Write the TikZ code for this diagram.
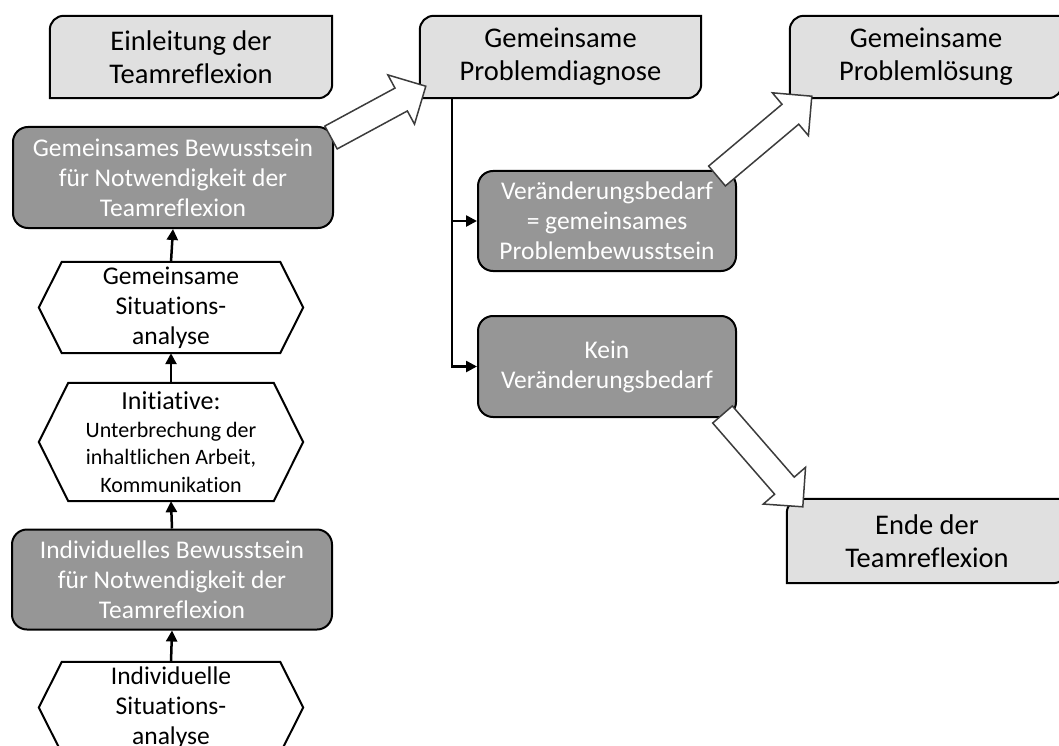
\documentclass[tikz,border=0pt]{standalone}
\usepackage{fontspec}
\setmainfont{Carlito}[Ligatures=NoCommon]
\usetikzlibrary{calc,arrows.meta}
\definecolor{palefill}{RGB}{224,224,224}
\definecolor{darkfill}{RGB}{150,150,150}
\definecolor{blockedge}{RGB}{60,60,60}
\pgfdeclarelayer{background}
\pgfsetlayers{background,main}
\newcommand\detailfont{\fontsize{22}{27.5}\selectfont}
\begin{document}
\begin{tikzpicture}[x=1pt,y=-1pt,
  phase/.style={inner sep=0pt, align=center, font=\fontsize{28.5}{33}\selectfont},
  state/.style={draw=black, line width=2pt, fill=darkfill, rounded corners=15pt,
                text=white, inner sep=0pt, align=center, font=\fontsize{25.5}{30}\selectfont},
  act/.style={inner sep=0pt, align=center, font=\fontsize{25.5}{30}\selectfont},
  paleline/.style={draw=black, line width=2pt, fill=palefill},
  hexline/.style={draw=black, line width=2pt, fill=white, line join=miter},
  flow/.style={line width=2.5pt, -{Triangle[length=11pt,width=11pt]}},
  block/.style={draw=blockedge, line width=1.5pt, fill=white, line join=miter},
  blockarrow/.style={to path={
    let \p1=(\tikztostart), \p2=(\tikztotarget),
        \n1={atan2(\y2-\y1,\x2-\x1)} in
      ($(\p1)+(\n1+90:13pt)$) --
      ($(\p2)+(\n1+180:28pt)+(\n1+90:13pt)$) --
      ($(\p2)+(\n1+180:28pt)+(\n1+90:28pt)$) --
      (\p2) --
      ($(\p2)+(\n1+180:28pt)+(\n1-90:28pt)$) --
      ($(\p2)+(\n1+180:28pt)+(\n1-90:13pt)$) --
      ($(\p1)+(\n1-90:13pt)$) -- cycle}}
]
\useasboundingbox (0,0) rectangle (1059,746);

% phases (pale boxes, outlines drawn on the background layer)
\node[phase, minimum width=282pt, minimum height=82pt] (ein) at (191,57) {Einleitung der\\Teamreflexion};
\node[phase, minimum width=281pt, minimum height=82pt] (gpd) at (560.5,57) {Gemeinsame\\Problemdiagnose};
\node[phase, minimum width=272pt, minimum height=82pt] (gpl) at (926,57) {Gemeinsame\\Problemlösung};
\node[phase, minimum width=280pt, minimum height=84pt] (ende) at (927,541) {Ende der\\Teamreflexion};

% states (dark rounded boxes)
\node[state, minimum width=320pt, minimum height=101pt] (gb) at (173,177.5) {Gemeinsames Bewusstsein\\für Notwendigkeit der\\Teamreflexion};
\node[state, minimum width=320pt, minimum height=100pt] (ib) at (172,579.5) {Individuelles Bewusstsein\\für Notwendigkeit der\\Teamreflexion};
\node[state, minimum width=258pt, minimum height=100pt] (vb) at (607,221) {Veränderungsbedarf\\= gemeinsames\\Problembewusstsein};
\node[state, minimum width=258pt, minimum height=101pt] (kv) at (607,366.5) {Kein\\Veränderungsbedarf};

% activities (hexagons, outlines drawn on the background layer)
\node[act, minimum width=264pt, minimum height=91pt] (gsa) at (171,307.5) {Gemeinsame\\Situations-\\analyse};
\node[act, minimum width=264pt, minimum height=118pt, font=\detailfont] (ini) at (171,442)
  {\fontsize{26}{30}\selectfont Initiative:\\Unterbrechung der\\inhaltlichen Arbeit,\\Kommunikation};
\node[act, minimum width=264pt, minimum height=91pt] (isa) at (171,707.5) {Individuelle\\Situations-\\analyse};

\begin{pgfonlayer}{background}
  \foreach \n in {ein,gpd,gpl,ende} {
    \path[paleline] (\n.south west) -- ([yshift=-14pt]\n.north west)
      arc[start angle=180, end angle=90, radius=14pt] -- (\n.north east)
      -- ([yshift=14pt]\n.south east)
      arc[start angle=0, end angle=-90, radius=14pt] -- cycle;
  }
  \foreach \n/\o in {gsa/23,ini/29.5,isa/23} {
    \path[hexline] (\n.west) -- ([xshift=\o pt]\n.north west) -- ([xshift=-\o pt]\n.north east)
      -- (\n.east) -- ([xshift=-\o pt]\n.south east) -- ([xshift=\o pt]\n.south west) -- cycle;
  }
\end{pgfonlayer}

% upward flow on the left
\draw[flow] (isa.north) -- (ib.south);
\draw[flow] (ib.north) -- (ini.south);
\draw[flow] (ini.north) -- (gsa.south);
\draw[flow] (gsa.north) -- (gb.south);

% diagnosis branches
\coordinate (trunk) at ([xshift=32pt]gpd.south west);
\draw[flow] (trunk) |- (vb.west);
\draw[flow] (trunk) |- (kv.west);

% block arrows between phases
\coordinate (b1s) at ([shift={(-3,11.5)}]gb.north east);
\coordinate (b1e) at ([shift={(6,-12)}]gpd.south west);
\coordinate (b2s) at ([shift={(-20,6)}]vb.north east);
\coordinate (b2e) at ([shift={(22,-2)}]gpl.south west);
\coordinate (b3s) at ([shift={(-14.5,-3.5)}]kv.south east);
\coordinate (b3e) at ([shift={(16,8)}]ende.north west);
\path[block] (b1s) to[blockarrow] (b1e);
\path[block] (b2s) to[blockarrow] (b2e);
\path[block] (b3s) to[blockarrow] (b3e);
\end{tikzpicture}
\end{document}
